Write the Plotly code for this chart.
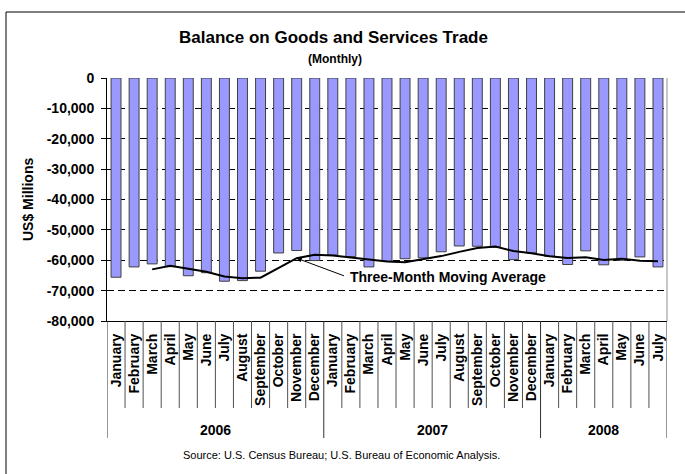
import pandas as pd
import plotly.graph_objects as go

# Monthly balance on goods and services trade, US$ millions
months = ["January", "February", "March", "April", "May", "June", "July",
          "August", "September", "October", "November", "December",
          "January", "February", "March", "April", "May", "June", "July",
          "August", "September", "October", "November", "December",
          "January", "February", "March", "April", "May", "June", "July"]
years = ["2006", "2007", "2008"]
months_per_year = [12, 12, 7]
balance = [-65600, -62200, -61200, -62100, -65100, -64100, -66900, -66700,
           -63600, -57600, -56800, -60100,
           -58300, -58800, -62200, -60300, -59500, -59200, -57200, -55300,
           -55400, -55700, -59800, -57600,
           -58700, -61400, -56900, -61500, -60000, -58900, -62200]
y_ticks = [0, -10000, -20000, -30000, -40000, -50000, -60000, -70000, -80000]

idx = list(range(len(balance)))
moving_avg = pd.Series(balance).rolling(3).mean()

FONT = "Liberation Sans, Arial, sans-serif"
W, H = 685, 474
L, R, T, B = 107, 18, 78, 153
pw, ph = W - L - R, H - T - B


def px_x(px):
    return (px - L) / pw


def px_y(py):
    return (H - B - py) / ph


fig = go.Figure()

fig.add_trace(go.Bar(
    x=idx, y=balance, width=0.55,
    marker=dict(color="#9999FF", line=dict(color="#404040", width=1)),
    showlegend=False, hoverinfo="y",
))

ma_x = [i for i in idx if pd.notna(moving_avg[i])]
ma_y = [moving_avg[i] for i in ma_x]
fig.add_trace(go.Scatter(
    x=ma_x, y=ma_y, mode="lines",
    line=dict(color="black", width=2),
    showlegend=False, hoverinfo="y",
))

shapes = []
# separators between month labels
n = len(balance)
boundaries = [0]
for c in months_per_year:
    boundaries.append(boundaries[-1] + c)
for i in range(n + 1):
    is_year = i in boundaries
    shapes.append(dict(
        type="line", xref="x", yref="paper",
        x0=i - 0.5, x1=i - 0.5, y0=0,
        y1=px_y(438) if is_year else px_y(408),
        line=dict(color="#303030" if is_year else "#505050", width=1),
    ))
# right edge of the plot area
shapes.append(dict(type="line", xref="paper", yref="paper",
                   x0=1, x1=1, y0=0, y1=1,
                   line=dict(color="#909090", width=1)))
# chart frame
shapes.append(dict(type="line", xref="paper", yref="paper",
                   x0=px_x(6), x1=px_x(700), y0=px_y(12), y1=px_y(12),
                   line=dict(color="black", width=1)))
shapes.append(dict(type="line", xref="paper", yref="paper",
                   x0=px_x(6), x1=px_x(6), y0=px_y(12), y1=px_y(490),
                   line=dict(color="black", width=1)))

annotations = [
    dict(text="<b>Balance on Goods and Services Trade</b>", xref="paper",
         yref="paper", x=px_x(333), y=px_y(37), showarrow=False,
         font=dict(family=FONT, size=17, color="black"),
         xanchor="center", yanchor="middle"),
    dict(text="<b>(Monthly)</b>", xref="paper", yref="paper",
         x=px_x(335), y=px_y(59), showarrow=False,
         font=dict(family=FONT, size=12, color="black"),
         xanchor="center", yanchor="middle"),
    dict(text="<b>US$ Millions</b>", xref="paper", yref="paper",
         x=px_x(28), y=px_y(200), showarrow=False, textangle=-90,
         font=dict(family=FONT, size=14, color="black"),
         xanchor="center", yanchor="middle"),
    dict(text="Source: U.S. Census Bureau; U.S. Bureau of Economic Analysis.",
         xref="paper", yref="paper", x=px_x(341), y=px_y(455),
         showarrow=False, font=dict(family=FONT, size=11, color="black"),
         xanchor="center", yanchor="middle"),
    # moving average callout
    dict(text="<b>Three-Month Moving Average</b>", xref="x", yref="y",
         x=12.85, y=-65600, showarrow=False,
         font=dict(family=FONT, size=14, color="black"),
         xanchor="left", yanchor="middle"),
    dict(text="", xref="x", yref="y", x=10, y=moving_avg[10],
         axref="x", ayref="y", ax=12.7, ay=-65300, showarrow=True,
         arrowhead=2, arrowsize=1, arrowwidth=1, arrowcolor="black"),
]
# year labels
start = 0
for yr, c in zip(years, months_per_year):
    annotations.append(dict(
        text=f"<b>{yr}</b>", xref="x", yref="paper",
        x=start + (c - 1) / 2, y=px_y(430), showarrow=False,
        font=dict(family=FONT, size=14, color="black"),
        xanchor="center", yanchor="middle"))
    start += c

fig.update_layout(
    width=W, height=H,
    margin=dict(l=L, r=R, t=T, b=B),
    paper_bgcolor="white", plot_bgcolor="white",
    shapes=shapes, annotations=annotations,
    bargap=0.45,
    xaxis=dict(
        range=[-0.5, n - 0.5], tickmode="array", tickvals=idx,
        ticktext=[f"<b>{m}</b>" for m in months], tickangle=-90,
        ticks="", showgrid=False, zeroline=False,
        showline=True, linecolor="black", linewidth=1,
        tickfont=dict(family=FONT, size=14, color="black"),
        ticklabelstandoff=6, automargin=False,
    ),
    yaxis=dict(
        range=[-80000, 0], tickmode="array", tickvals=y_ticks,
        ticktext=[f"<b>{v:,}</b>" for v in y_ticks],
        ticks="outside", ticklen=5, tickcolor="black",
        showline=True, linecolor="black", linewidth=1,
        showgrid=True, gridcolor="black", gridwidth=1, griddash="7px,4px",
        zeroline=False,
        tickfont=dict(family=FONT, size=14, color="black"),
        ticklabelstandoff=4, automargin=False,
    ),
)

fig.write_html("out.html")
